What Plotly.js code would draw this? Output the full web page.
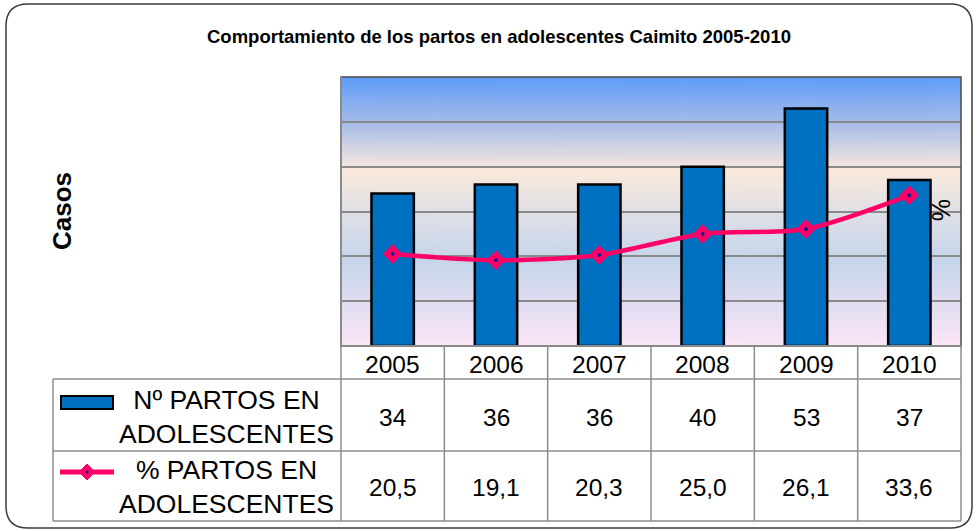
<!DOCTYPE html>
<html>
<head>
<meta charset="utf-8">
<script src="https://cdn.plot.ly/plotly-3.0.1.min.js"></script>
<style>html,body{margin:0;padding:0;background:#fff;}#chart{width:977px;height:531px;}</style>
</head>
<body>
<div id="chart"></div>
<script>
// ---- data ----
var years = ['2005', '2006', '2007', '2008', '2009', '2010'];
var partos = [34, 36, 36, 40, 53, 37];
var porcentaje = [20.5, 19.1, 20.3, 25.0, 26.1, 33.6];
var partosLabels = ['34', '36', '36', '40', '53', '37'];
var porcentajeLabels = ['20,5', '19,1', '20,3', '25,0', '26,1', '33,6'];
var seriesNames = ['Nº PARTOS EN<br>ADOLESCENTES', '% PARTOS EN<br>ADOLESCENTES'];
var chartTitle = 'Comportamiento de los partos en adolescentes Caimito 2005-2010';

// ---- geometry helpers (pixel -> paper) ----
var W = 977, H = 531;
var L = 341, R = 961, T = 77, B = 346;
function px(x) { return (x - L) / (R - L); }
function py(y) { return (B - y) / (B - T); }

// gradient background image
var cv = document.createElement('canvas');
cv.width = 10; cv.height = 269;
var ctx = cv.getContext('2d');
var g = ctx.createLinearGradient(0, 0, 0, 269);
g.addColorStop(0, '#5e9cf8');
g.addColorStop(0.17, '#a6bce9');
g.addColorStop(0.35, '#fbe9dd');
g.addColorStop(0.5, '#e0e0e6');
g.addColorStop(0.68, '#c5d5ea');
g.addColorStop(0.83, '#dfdcf1');
g.addColorStop(1, '#fbe6f7');
ctx.fillStyle = g; ctx.fillRect(0, 0, 10, 269);
var bgURL = cv.toDataURL('image/png');

var FONT = 'Liberation Sans, Arial, sans-serif';
var gridCol = '#8a8a8a';
var tabCol = '#8c8c8c';

var traces = [
  {
    type: 'bar', x: years, y: partos, width: 0.41,
    marker: {color: '#0070c0', line: {color: '#000', width: 2.5}},
    hoverinfo: 'skip', showlegend: false
  },
  {
    type: 'scatter', mode: 'lines+markers', x: years, y: porcentaje,
    line: {color: '#ff0066', width: 4.5, shape: 'spline', smoothing: 0.8},
    marker: {symbol: 'diamond', size: 15, color: '#ff0066'},
    hoverinfo: 'skip', showlegend: false
  },
  {
    type: 'scatter', mode: 'markers', x: years, y: porcentaje,
    marker: {symbol: 'circle', size: 4, color: '#1a1a8c'},
    hoverinfo: 'skip', showlegend: false
  }
];

var shapes = [];
var annotations = [];

// outer rounded border
(function () {
  var x0 = 6, y0 = 4, x1 = 972, y1 = 528, r = 22;
  var p = 'M ' + px(x0 + r) + ' ' + py(y0) +
    ' L ' + px(x1 - r) + ' ' + py(y0) +
    ' Q ' + px(x1) + ' ' + py(y0) + ' ' + px(x1) + ' ' + py(y0 + r) +
    ' L ' + px(x1) + ' ' + py(y1 - r) +
    ' Q ' + px(x1) + ' ' + py(y1) + ' ' + px(x1 - r) + ' ' + py(y1) +
    ' L ' + px(x0 + r) + ' ' + py(y1) +
    ' Q ' + px(x0) + ' ' + py(y1) + ' ' + px(x0) + ' ' + py(y1 - r) +
    ' L ' + px(x0) + ' ' + py(y0 + r) +
    ' Q ' + px(x0) + ' ' + py(y0) + ' ' + px(x0 + r) + ' ' + py(y0) + ' Z';
  shapes.push({type: 'path', xref: 'paper', yref: 'paper', path: p,
    line: {color: '#3c3c3c', width: 1.5}, layer: 'below'});
})();

// table horizontal lines
[[346, L], [379, 53], [451, 53], [521, 53]].forEach(function (h) {
  shapes.push({type: 'line', xref: 'paper', yref: 'paper',
    x0: px(h[1]), x1: px(R), y0: py(h[0]), y1: py(h[0]),
    line: {color: tabCol, width: 1.5}});
});
shapes.push({type: 'line', xref: 'paper', yref: 'paper', x0: px(53), x1: px(53), y0: py(379), y1: py(521), line: {color: tabCol, width: 1.5}});
shapes.push({type: 'line', xref: 'paper', yref: 'paper', x0: 0, x1: 0, y0: py(346), y1: py(521), line: {color: tabCol, width: 1.5}});
shapes.push({type: 'line', xref: 'paper', yref: 'paper', x0: 1, x1: 1, y0: py(346), y1: py(521), line: {color: tabCol, width: 1.5}});
for (var i = 0; i < years.length - 1; i++) {
  shapes.push({type: 'line', xref: 'x', yref: 'paper', x0: i + 0.5, x1: i + 0.5,
    y0: py(346), y1: py(521), line: {color: tabCol, width: 1.5}});
}
// plot frame
shapes.push({type: 'rect', xref: 'paper', yref: 'paper', x0: 0, x1: 1, y0: 0, y1: 1,
  line: {color: '#4a4a4a', width: 1.5}});
shapes.push({type: 'line', xref: 'paper', yref: 'paper', x0: 0, x1: 0, y0: 0, y1: 1,
  line: {color: '#8a8a8a', width: 2}});
shapes.push({type: 'line', xref: 'paper', yref: 'paper', x0: 0, x1: 1, y0: 0, y1: 0,
  line: {color: '#8a8a8a', width: 2}});

// legend keys
shapes.push({type: 'rect', xref: 'paper', yref: 'paper', x0: px(61), x1: px(113), y0: py(409), y1: py(396),
  fillcolor: '#0070c0', line: {color: '#000', width: 2}});
shapes.push({type: 'line', xref: 'paper', yref: 'paper', x0: px(60), x1: px(114), y0: py(472), y1: py(472),
  line: {color: '#ff0066', width: 5}});
shapes.push({type: 'path', xref: 'paper', yref: 'paper',
  path: 'M ' + px(87) + ' ' + py(464) + ' L ' + px(95) + ' ' + py(472) + ' L ' + px(87) + ' ' + py(480) + ' L ' + px(79) + ' ' + py(472) + ' Z',
  fillcolor: '#ff0066', line: {color: '#ff0066', width: 1}});
shapes.push({type: 'circle', xref: 'paper', yref: 'paper', x0: px(85.5), x1: px(88.5), y0: py(470.5), y1: py(473.5),
  fillcolor: '#1a1a8c', line: {width: 0}});

// title
annotations.push({xref: 'paper', yref: 'paper', x: px(499), y: py(37), text: '<b>' + chartTitle + '</b>',
  showarrow: false, xanchor: 'center', yanchor: 'middle', font: {family: FONT, size: 18.5, color: '#000'}});
// axis titles
annotations.push({xref: 'paper', yref: 'paper', x: px(62), y: py(211), text: '<b>Casos</b>', textangle: -90,
  showarrow: false, xanchor: 'center', yanchor: 'middle', font: {family: FONT, size: 26, color: '#000'}});
annotations.push({xref: 'paper', yref: 'paper', x: px(941), y: py(210), text: '%', textangle: 90,
  showarrow: false, xanchor: 'center', yanchor: 'middle', font: {family: FONT, size: 25, color: '#000'}});

// table content
years.forEach(function (yr, k) {
  annotations.push({xref: 'x', yref: 'paper', x: k, y: py(364), text: yr, showarrow: false,
    xanchor: 'center', yanchor: 'middle', font: {family: FONT, size: 24.5, color: '#000'}});
  annotations.push({xref: 'x', yref: 'paper', x: k, y: py(417), text: partosLabels[k], showarrow: false,
    xanchor: 'center', yanchor: 'middle', font: {family: FONT, size: 24.5, color: '#000'}});
  annotations.push({xref: 'x', yref: 'paper', x: k, y: py(487), text: porcentajeLabels[k], showarrow: false,
    xanchor: 'center', yanchor: 'middle', font: {family: FONT, size: 24.5, color: '#000'}});
});
annotations.push({xref: 'paper', yref: 'paper', x: px(226), y: py(417), text: seriesNames[0], showarrow: false,
  xanchor: 'center', yanchor: 'middle', align: 'center', font: {family: FONT, size: 26.5, color: '#000'}});
annotations.push({xref: 'paper', yref: 'paper', x: px(226), y: py(487), text: seriesNames[1], showarrow: false,
  xanchor: 'center', yanchor: 'middle', align: 'center', font: {family: FONT, size: 26.5, color: '#000'}});

var layout = {
  width: W, height: H,
  margin: {l: L, r: W - R, t: T, b: H - B, pad: 0},
  paper_bgcolor: '#ffffff',
  plot_bgcolor: 'rgba(0,0,0,0)',
  showlegend: false,
  xaxis: {type: 'category', range: [-0.5, 5.5], showticklabels: false, ticks: '',
    showgrid: false, zeroline: false, showline: false, fixedrange: true},
  yaxis: {range: [0, 60], dtick: 10, showticklabels: false, ticks: '',
    showgrid: true, gridcolor: gridCol, gridwidth: 2, zeroline: false, showline: false, fixedrange: true},
  images: [{source: bgURL, xref: 'paper', yref: 'paper', x: 0, y: 1, sizex: 1, sizey: 1,
    sizing: 'stretch', layer: 'below', xanchor: 'left', yanchor: 'top'}],
  shapes: shapes,
  annotations: annotations,
  font: {family: FONT}
};

Plotly.newPlot('chart', traces, layout, {displayModeBar: false, staticPlot: true});
</script>
</body>
</html>
